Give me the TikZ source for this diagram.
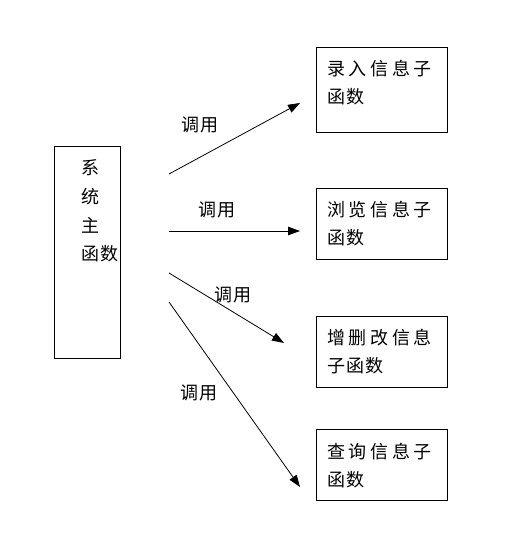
\documentclass[tikz,border=0pt]{standalone}
\usepackage{fontspec}
\newfontfamily\cjk{Noto Sans CJK SC}
\usetikzlibrary{arrows.meta}
\newcommand\cjkgap{\hspace{3.6pt}}
\newcommand\cjksm{\hspace{1pt}}
\begin{document}
\begin{tikzpicture}[x=1pt,y=-1pt,
  box/.style={draw, line width=0.8pt, inner sep=0pt},
  txt/.style={font=\cjk\fontsize{18}{18}\selectfont, inner sep=0pt, anchor=west},
  lbl/.style={font=\cjk\fontsize{18}{18}\selectfont, inner sep=0pt},
  arr/.style={-{Triangle[length=12pt,width=8.5pt]}, line width=0.8pt}]
\useasboundingbox[fill=white] (0,0) rectangle (521,534);
% boxes
\node[box, minimum width=66pt, minimum height=212pt] (main) at (87,252) {};
\node[box, minimum width=131pt, minimum height=85pt] (b1) at (381.5,89.5) {};
\node[box, minimum width=131pt, minimum height=71pt] (b2) at (381.5,223.5) {};
\node[box, minimum width=131pt, minimum height=71pt] (b3) at (381.5,351.5) {};
\node[box, minimum width=131pt, minimum height=71pt] (b4) at (381.5,464.5) {};
% main text
\node[txt] (m1) at (81,168) {系};
\node[txt] (m2) at (81,196.5) {统};
\node[txt] (m3) at (81,225) {主};
\node[txt] (m4) at (81,253.5) {函\cjksm 数};
% box texts
\node[txt] (t1a) at (327,69) {录\cjkgap 入\cjkgap 信\cjkgap 息\cjkgap 子};
\node[txt] (t1b) at (327,97) {函\cjksm 数};
\node[txt] (t2a) at (327,210) {浏\cjkgap 览\cjkgap 信\cjkgap 息\cjkgap 子};
\node[txt] (t2b) at (327,238) {函\cjksm 数};
\node[txt] (t3a) at (327,338) {增\cjkgap 删\cjkgap 改\cjkgap 信\cjkgap 息};
\node[txt] (t3b) at (327,366) {子\cjksm 函\cjksm 数};
\node[txt] (t4a) at (327,452) {查\cjkgap 询\cjkgap 信\cjkgap 息\cjkgap 子};
\node[txt] (t4b) at (327,480) {函\cjksm 数};
% arrow endpoints
\coordinate (s1) at (169,174);
\coordinate (e1) at (300,103);
\coordinate (s2) at (169,231);
\coordinate (e2) at (300,231);
\coordinate (s3) at (169,273);
\coordinate (e3) at (284,343);
\coordinate (s4) at (169,302);
\coordinate (e4) at (300,487);
\draw[arr] (s1) -- (e1);
\draw[arr] (s2) -- (e2);
\draw[arr] (s3) -- (e3);
\draw[arr] (s4) -- (e4);
% labels
\node[lbl] (l1) at (200,125) {调\cjksm 用};
\node[lbl] (l2) at (217,210) {调\cjksm 用};
\node[lbl] (l3) at (233,295) {调\cjksm 用};
\node[lbl] (l4) at (199,393) {调\cjksm 用};
\end{tikzpicture}
\end{document}
